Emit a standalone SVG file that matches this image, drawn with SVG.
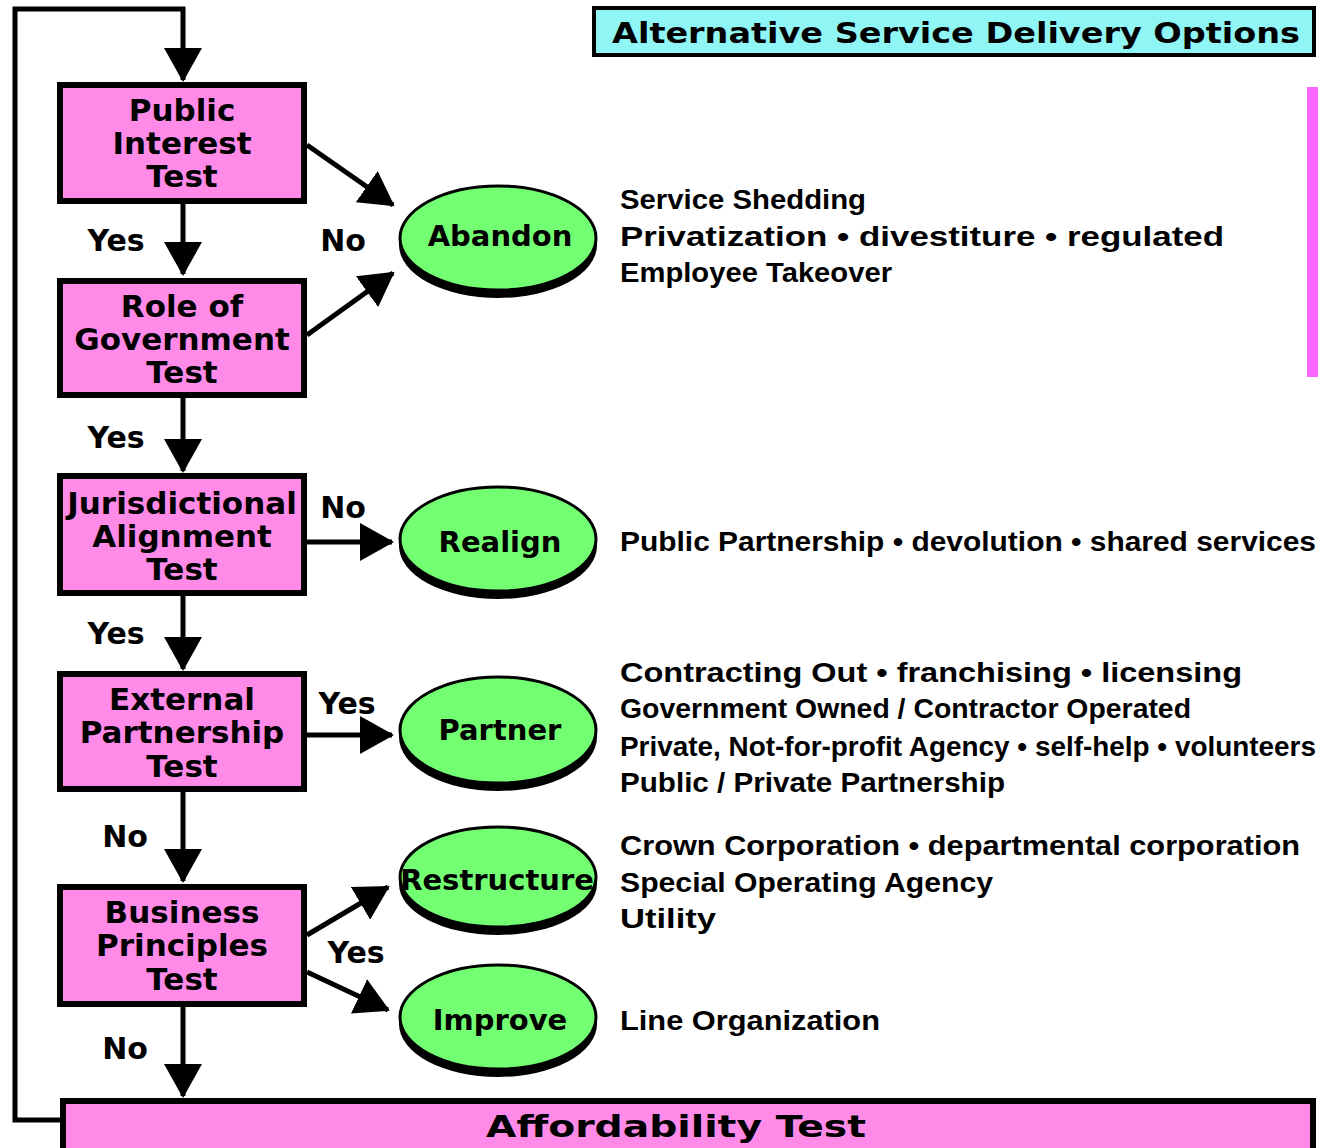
<svg xmlns="http://www.w3.org/2000/svg" width="1318" height="1148" viewBox="0 0 1318 1148">
<defs>
<marker id="ah" markerUnits="userSpaceOnUse" markerWidth="34" markerHeight="38" refX="32" refY="19" orient="auto">
<path d="M0,0 L34,19 L0,38 z" fill="#000"/>
</marker>
<style>
.box{fill:#FF8AE8;stroke:#000;stroke-width:6}
.ell{fill:#72FF72;stroke:#000;stroke-width:3}
.sh{fill:#000}
.bl{font-family:"DejaVu Sans",sans-serif;font-weight:bold;font-size:31px;text-anchor:middle;fill:#000}
.el{font-family:"DejaVu Sans",sans-serif;font-weight:bold;font-size:29px;text-anchor:middle;fill:#000}
.yn{font-family:"DejaVu Sans",sans-serif;font-weight:bold;font-size:30px;text-anchor:middle;fill:#000}
.ds{font-family:"Liberation Sans",Arial,sans-serif;font-weight:bold;font-size:28px;fill:#000}
.cn{stroke:#000;stroke-width:5;fill:none}
</style>
</defs>
<rect width="1318" height="1148" fill="#fff"/>

<g id="connectors">
<polyline class="cn" points="60,1120 15,1120 15,9 183,9 183,80" stroke-width="6" marker-end="url(#ah)"/>
<line class="cn" x1="183" y1="204" x2="183" y2="274" marker-end="url(#ah)"/>
<line class="cn" x1="183" y1="398" x2="183" y2="471" marker-end="url(#ah)"/>
<line class="cn" x1="183" y1="596" x2="183" y2="669" marker-end="url(#ah)"/>
<line class="cn" x1="183" y1="792" x2="183" y2="881" marker-end="url(#ah)"/>
<line class="cn" x1="183" y1="1007" x2="183" y2="1096" marker-end="url(#ah)"/>
<line class="cn" x1="307" y1="145" x2="393" y2="205" marker-end="url(#ah)"/>
<line class="cn" x1="307" y1="335" x2="393" y2="273" marker-end="url(#ah)"/>
<line class="cn" x1="307" y1="542" x2="392" y2="542" marker-end="url(#ah)"/>
<line class="cn" x1="307" y1="735" x2="392" y2="735" marker-end="url(#ah)"/>
<line class="cn" x1="307" y1="935" x2="388" y2="887" marker-end="url(#ah)"/>
<line class="cn" x1="307" y1="972" x2="388" y2="1010" marker-end="url(#ah)"/>
<text class="yn" x="116" y="251">Yes</text>
<text class="yn" x="343" y="251">No</text>
<text class="yn" x="116" y="448">Yes</text>
<text class="yn" x="116" y="644">Yes</text>
<text class="yn" x="343" y="518">No</text>
<text class="yn" x="347" y="714">Yes</text>
<text class="yn" x="125" y="847">No</text>
<text class="yn" x="356" y="963">Yes</text>
<text class="yn" x="125" y="1059">No</text>
</g>

<g id="title">
<rect x="594" y="8" width="720" height="47" fill="#8FF5F5" stroke="#000" stroke-width="4"/>
<text class="el" x="956" y="43" font-size="30" textLength="688" lengthAdjust="spacingAndGlyphs">Alternative Service Delivery Options</text>
</g>

<g id="sidebar">
<rect x="1307" y="87" width="11" height="290" fill="#FF66FF"/>
</g>

<g id="public-interest">
<rect class="box" x="60" y="85" width="244" height="116"/>
<text class="bl" x="182" y="121">Public</text>
<text class="bl" x="182" y="154">Interest</text>
<text class="bl" x="182" y="187">Test</text>
</g>

<g id="role-of-government">
<rect class="box" x="60" y="281" width="244" height="114"/>
<text class="bl" x="182" y="317">Role of</text>
<text class="bl" x="182" y="350">Government</text>
<text class="bl" x="182" y="383">Test</text>
</g>

<g id="jurisdictional">
<rect class="box" x="60" y="476" width="244" height="117"/>
<text class="bl" x="182" y="514">Jurisdictional</text>
<text class="bl" x="182" y="547">Alignment</text>
<text class="bl" x="182" y="580">Test</text>
</g>

<g id="external-partnership">
<rect class="box" x="60" y="674" width="244" height="115"/>
<text class="bl" x="182" y="710">External</text>
<text class="bl" x="182" y="743">Partnership</text>
<text class="bl" x="182" y="777">Test</text>
</g>

<g id="business-principles">
<rect class="box" x="60" y="887" width="244" height="117"/>
<text class="bl" x="182" y="923">Business</text>
<text class="bl" x="182" y="956">Principles</text>
<text class="bl" x="182" y="990">Test</text>
</g>

<g id="affordability">
<rect class="box" x="63" y="1101" width="1250" height="60"/>
<text class="bl" x="676" y="1137" font-size="34" textLength="380" lengthAdjust="spacingAndGlyphs">Affordability Test</text>
</g>

<g id="abandon">
<ellipse class="sh" cx="498" cy="245" rx="99" ry="53"/>
<ellipse class="ell" cx="498" cy="238" rx="98" ry="52"/>
<text class="el" x="500" y="246">Abandon</text>
</g>
<g id="realign">
<ellipse class="sh" cx="498" cy="546" rx="99" ry="53"/>
<ellipse class="ell" cx="498" cy="539" rx="98" ry="52"/>
<text class="el" x="500" y="552">Realign</text>
</g>
<g id="partner">
<ellipse class="sh" cx="498" cy="737" rx="99" ry="54"/>
<ellipse class="ell" cx="498" cy="730" rx="98" ry="53"/>
<text class="el" x="500" y="740">Partner</text>
</g>
<g id="restructure">
<ellipse class="sh" cx="498" cy="884" rx="99" ry="51"/>
<ellipse class="ell" cx="498" cy="877" rx="98" ry="50"/>
<text class="el" x="497" y="890" font-size="28">Restructure</text>
</g>
<g id="improve">
<ellipse class="sh" cx="498" cy="1024" rx="99" ry="53"/>
<ellipse class="ell" cx="498" cy="1017" rx="98" ry="52"/>
<text class="el" x="500" y="1030">Improve</text>
</g>

<g id="descriptions">
<text class="ds" x="620" y="209" textLength="246" lengthAdjust="spacingAndGlyphs">Service Shedding</text>
<text class="ds" x="620" y="246" textLength="604" lengthAdjust="spacingAndGlyphs">Privatization  •  divestiture  •  regulated</text>
<text class="ds" x="620" y="282" textLength="272" lengthAdjust="spacingAndGlyphs">Employee Takeover</text>
<text class="ds" x="620" y="551" textLength="696" lengthAdjust="spacingAndGlyphs">Public Partnership • devolution • shared services</text>
<text class="ds" x="620" y="682" textLength="622" lengthAdjust="spacingAndGlyphs">Contracting Out  •  franchising  •  licensing</text>
<text class="ds" x="620" y="718" textLength="571" lengthAdjust="spacingAndGlyphs">Government Owned / Contractor Operated</text>
<text class="ds" x="620" y="756" textLength="696" lengthAdjust="spacingAndGlyphs">Private, Not-for-profit Agency • self-help • volunteers</text>
<text class="ds" x="620" y="792" textLength="385" lengthAdjust="spacingAndGlyphs">Public / Private Partnership</text>
<text class="ds" x="620" y="855" textLength="680" lengthAdjust="spacingAndGlyphs">Crown Corporation  •  departmental corporation</text>
<text class="ds" x="620" y="892" textLength="373" lengthAdjust="spacingAndGlyphs">Special Operating Agency</text>
<text class="ds" x="620" y="928" textLength="96" lengthAdjust="spacingAndGlyphs">Utility</text>
<text class="ds" x="620" y="1030" textLength="260" lengthAdjust="spacingAndGlyphs">Line Organization</text>
</g>
</svg>
